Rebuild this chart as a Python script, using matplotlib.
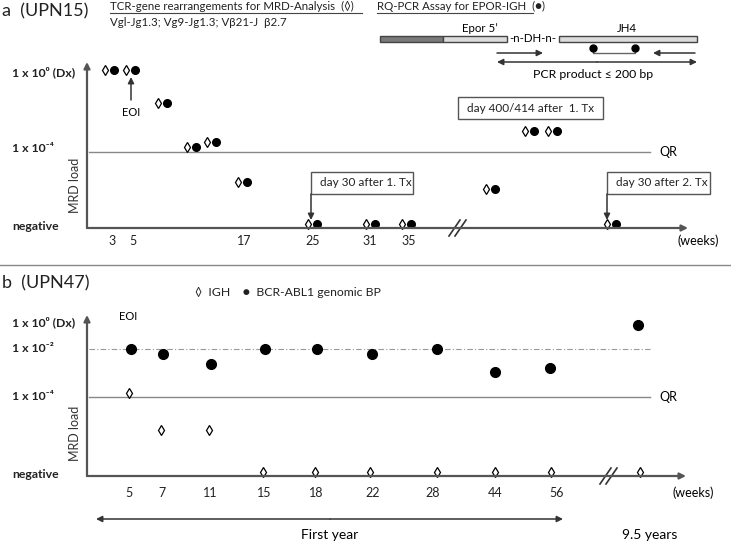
import matplotlib.pyplot as plt
from matplotlib.patches import Rectangle

plt.rcParams['font.family'] = ['Lato', 'DejaVu Sans']

W, H = 731, 542
GREY = '#555555'

# panel a (UPN15): timeline positions and MRD level positions
a_week_labels = ['3', '5', '17', '25', '31', '35']
a_week_pos = [112, 133, 244, 313, 370, 409]
a_level_labels = ['1 x 10⁰ (Dx)', '1 x 10⁻⁴', 'negative']
a_level_pos = [72, 149, 227]
a_pos = [105, 126, 158, 187, 207, 238, 308, 366, 402, 486, 525, 548, 607]
a_load = [70, 70, 103, 147, 142, 182, 224, 224, 224, 189, 131, 131, 224]
pair_gap = 9

# panel b (UPN47)
b_week_labels = ['5', '7', '11', '15', '18', '22', '28', '44', '56']
b_week_pos = [129, 162, 210, 264, 316, 373, 433, 495, 557]
b_level_labels = ['1 x 10⁰ (Dx)', '1 x 10⁻²', '1 x 10⁻⁴', 'negative']
b_level_pos = [322, 349, 396, 474]
b_igh_pos = [129, 161, 209, 263, 315, 370, 437, 495, 551, 640]
b_igh_load = [393, 430, 430, 472, 472, 472, 472, 472, 472, 472]
b_bcr_pos = [131, 163, 211, 265, 317, 372, 437, 495, 550, 638]
b_bcr_load = [349, 354, 364, 349, 349, 354, 349, 372, 368, 325]

fig = plt.figure(figsize=(W / 100, H / 100), dpi=100)
ax = fig.add_axes([0, 0, 1, 1])
ax.set_xlim(0, W)
ax.set_ylim(H, 0)
ax.axis('off')


def arrow(x0, y0, x1, y1, lw=1.4, color=GREY, style='-|>'):
    ax.annotate('', xy=(x1, y1), xytext=(x0, y0),
                arrowprops=dict(arrowstyle=style, color=color, lw=lw,
                                shrinkA=0, shrinkB=0, mutation_scale=9))


def axes_frame(x0, y0, ytop, xright):
    arrow(x0, y0, x0, ytop, lw=1.6)
    arrow(x0, y0, xright, y0, lw=1.6)


def brk(x, y):
    for dx in (0, 6):
        ax.plot([x - 6 + dx, x + 5 + dx], [y + 8, y - 8], color='#333333', lw=1.2)


def box(x0, y0, x1, y1, text, arrow_to=None):
    ax.add_patch(Rectangle((x0, y0), x1 - x0, y1 - y0, fill=False,
                           ec=GREY, lw=1))
    ax.text(x0 + 9, (y0 + y1) / 2, text, fontsize=8.5, va='center', ha='left',
            color='#222222')
    if arrow_to is not None:
        arrow(x0, y1, x0, arrow_to, lw=1.1, color='#333333')


# ---------- headers ----------
ax.text(2, 11, 'a  (UPN15)', fontsize=13, va='center', color='#222222')
ax.text(110, 6, 'TCR-gene rearrangements for MRD-Analysis  (◊)', fontsize=8.3,
        va='center', color='#222222')
ax.plot([110, 362], [13, 13], color='#444444', lw=0.8)
ax.text(110, 22, 'Vgl-Jg1.3; Vg9-Jg1.3; Vβ21-J  β2.7', fontsize=8.3,
        va='center', color='#222222')
ax.text(377, 6, 'RQ-PCR Assay for EPOR-IGH  (●)', fontsize=8.3, va='center',
        color='#222222')
ax.plot([377, 533], [13, 13], color='#444444', lw=0.8)

# EPOR-IGH schematic
ax.add_patch(Rectangle((380, 36), 63, 6, fc='#7a7a7a', ec='#444444', lw=1))
ax.add_patch(Rectangle((443, 36), 64, 6, fc='#dcdcdc', ec='#444444', lw=1))
ax.add_patch(Rectangle((559, 36), 138, 6, fc='#dcdcdc', ec='#444444', lw=1))
ax.text(480, 28, 'Epor 5\u2019', fontsize=8.3, ha='center', va='center')
ax.text(533, 39, '-n-DH-n-', fontsize=8.3, ha='center', va='center')
ax.text(627, 28, 'JH4', fontsize=8.3, ha='center', va='center')
ax.plot([593, 593, 635, 635], [48, 53, 53, 48], color='#666666', lw=1)
ax.plot([593, 635], [48, 48], 'o', color='black', ms=5)
arrow(497, 53, 543, 53, lw=1.1, color='#333333')
arrow(695, 53, 653, 53, lw=1.1, color='#333333')
arrow(597, 62, 497, 62, lw=1.1, color='#333333')
arrow(597, 62, 697, 62, lw=1.1, color='#333333')
ax.text(593, 74, 'PCR product \u2264 200 bp', fontsize=8.8, ha='center',
        va='center')

# ---------- panel a ----------
axes_frame(87, 228, 62, 688)
brk(455, 228)
for lab, y in zip(a_level_labels, a_level_pos):
    ax.text(12, y, lab, fontsize=8.8, fontweight='bold', va='center',
            color='#222222')
for lab, x in zip(a_week_labels, a_week_pos):
    ax.text(x, 241, lab, fontsize=9, ha='center', va='center', color='#222222')
ax.text(698, 241, '(weeks)', fontsize=9, ha='center', va='center')
ax.text(75, 185, 'MRD load', fontsize=9, rotation=90, ha='center',
        va='center', color='#333333')
ax.plot([89, 650], [152, 152], color='#888888', lw=1)
ax.text(659, 152, 'QR', fontsize=9, va='center')

ax.plot(a_pos, a_load, 'd', ms=5.5, mfc='white', mec='black', mew=0.9)
ax.plot([p + pair_gap for p in a_pos], a_load, 'o', color='black', ms=5.5)

arrow(131, 100, 131, 77, lw=1.1, color='#333333')
ax.text(131, 112, 'EOI', fontsize=8, ha='center', va='center')
box(311, 172, 413, 194, 'day 30 after 1. Tx', arrow_to=220)
box(607, 172, 710, 194, 'day 30 after 2. Tx', arrow_to=220)
box(458, 97, 603, 119, 'day 400/414 after  1. Tx')

# separator
ax.plot([0, W], [265, 265], color='#888888', lw=1)

# ---------- panel b ----------
ax.text(2, 283, 'b  (UPN47)', fontsize=13, va='center', color='#222222')
ax.text(195, 293, '◊  IGH    ●  BCR-ABL1 genomic BP', fontsize=8.8,
        va='center', color='#222222')
axes_frame(87, 476, 315, 686)
brk(606, 476)
for lab, y in zip(b_level_labels, b_level_pos):
    ax.text(12, y, lab, fontsize=8.8, fontweight='bold', va='center',
            color='#222222')
for lab, x in zip(b_week_labels, b_week_pos):
    ax.text(x, 493, lab, fontsize=9, ha='center', va='center', color='#222222')
ax.text(693, 493, '(weeks)', fontsize=9, ha='center', va='center')
ax.text(75, 433, 'MRD load', fontsize=9, rotation=90, ha='center',
        va='center', color='#333333')
ax.plot([89, 650], [349, 349], color='#999999', lw=0.8,
        linestyle=(0, (5, 2, 1, 2)))
ax.plot([89, 650], [397, 397], color='#888888', lw=1)
ax.text(659, 397, 'QR', fontsize=9, va='center')
ax.text(128, 317, 'EOI', fontsize=8, ha='center', va='center')

ax.plot(b_igh_pos, b_igh_load, 'd', ms=5.5, mfc='white', mec='black', mew=0.9)
ax.plot(b_bcr_pos, b_bcr_load, 'o', color='black', ms=7)

arrow(330, 519, 96, 519, lw=1.1, color='#333333')
arrow(330, 519, 563, 519, lw=1.1, color='#333333')
ax.text(330, 535, 'First year', fontsize=10, ha='center', va='center')
ax.text(650, 535, '9.5 years', fontsize=10, ha='center', va='center')

fig.savefig('out.png', dpi=100)
